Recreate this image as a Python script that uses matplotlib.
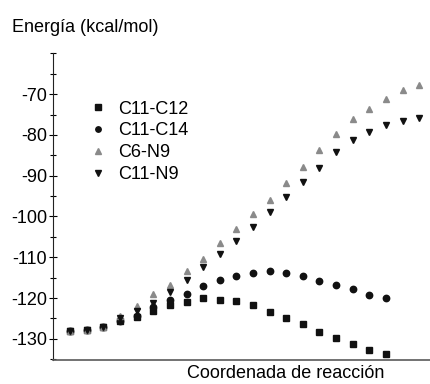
import matplotlib
matplotlib.use("Agg")
from matplotlib import pyplot as plt
from matplotlib.ticker import MultipleLocator

plt.rcParams['font.family'] = ['Liberation Sans', 'DejaVu Sans']
plt.rcParams['axes.unicode_minus'] = False

# reaction coordinate steps
steps = list(range(22))

c11_c12 = [-128.2, -127.8, -127.0, -125.6, -124.7, -123.3, -121.8, -121.0, -120.0, -120.4,
           -120.8, -121.6, -123.4, -124.9, -126.3, -128.4, -129.8, -131.2, -132.7, -133.8]
c11_c14 = [-128.2, -127.8, -127.0, -125.7, -124.3, -122.2, -120.6, -118.9, -117.1, -115.7,
           -114.7, -113.8, -113.3, -113.8, -114.6, -115.8, -116.9, -117.7, -119.2, -120.0]
c6_n9 = [-128.2, -127.8, -127.0, -124.3, -122.0, -119.1, -116.7, -113.4, -110.5, -106.6,
         -103.0, -99.4, -95.9, -91.8, -87.8, -83.8, -79.8, -76.1, -73.6, -71.1, -68.9, -67.7]
c11_n9 = [-128.2, -127.8, -127.0, -125.0, -123.1, -121.1, -118.6, -115.5, -112.3, -109.3,
          -106.0, -102.5, -98.9, -95.3, -91.6, -88.1, -84.2, -81.2, -79.3, -77.5, -76.7, -75.9]

labels = ["C11-C12", "C11-C14", "C6-N9", "C11-N9"]

fig = plt.figure(figsize=(4.3, 3.84), dpi=100)
ax = fig.add_axes([0.1226, 0.0625, 0.8774, 0.7995])

ax.plot(steps[:len(c11_c12)], c11_c12, ls="none", marker="s", ms=4.6, color="#111111", label=labels[0])
ax.plot(steps[:len(c11_c14)], c11_c14, ls="none", marker="o", ms=4.6, color="#111111", label=labels[1])
ax.plot(steps, c6_n9, ls="none", marker="^", ms=5.0, color="#8a8a8a", label=labels[2])
ax.plot(steps, c11_n9, ls="none", marker="v", ms=5.0, color="#111111", label=labels[3])

ax.set_xlim(-1.05, 21.65)
ax.set_ylim(-135.2, -59.9)

for side in ["top", "right"]:
    ax.spines[side].set_visible(False)
ax.spines["left"].set_color("#222222")
ax.spines["bottom"].set_color("#5a5a5a")
ax.spines["bottom"].set_linewidth(1.2)

ax.set_xticks([])
ax.yaxis.set_major_locator(MultipleLocator(10))
ax.yaxis.set_minor_locator(MultipleLocator(5))
ax.set_yticks([-130, -120, -110, -100, -90, -80, -70])
ax.tick_params(axis="y", which="major", direction="inout", length=6, width=0.8, pad=1, labelsize=13)
ax.tick_params(axis="y", which="minor", direction="inout", length=4, width=0.8)

ax.legend(loc="upper left", bbox_to_anchor=(0.096, 0.845), frameon=False, fontsize=13,
          handlelength=1.0, handletextpad=0.6, labelspacing=0.27, borderpad=0, borderaxespad=0,
          markerscale=0.85)

fig.text(12 / 430, 1 - 27 / 384, "Energía (kcal/mol)", fontsize=13, ha="left", va="center")
fig.text(187 / 430, 1 - 373 / 384, "Coordenada de reacción", fontsize=13, ha="left", va="center")

fig.savefig("out.png", dpi=100)
